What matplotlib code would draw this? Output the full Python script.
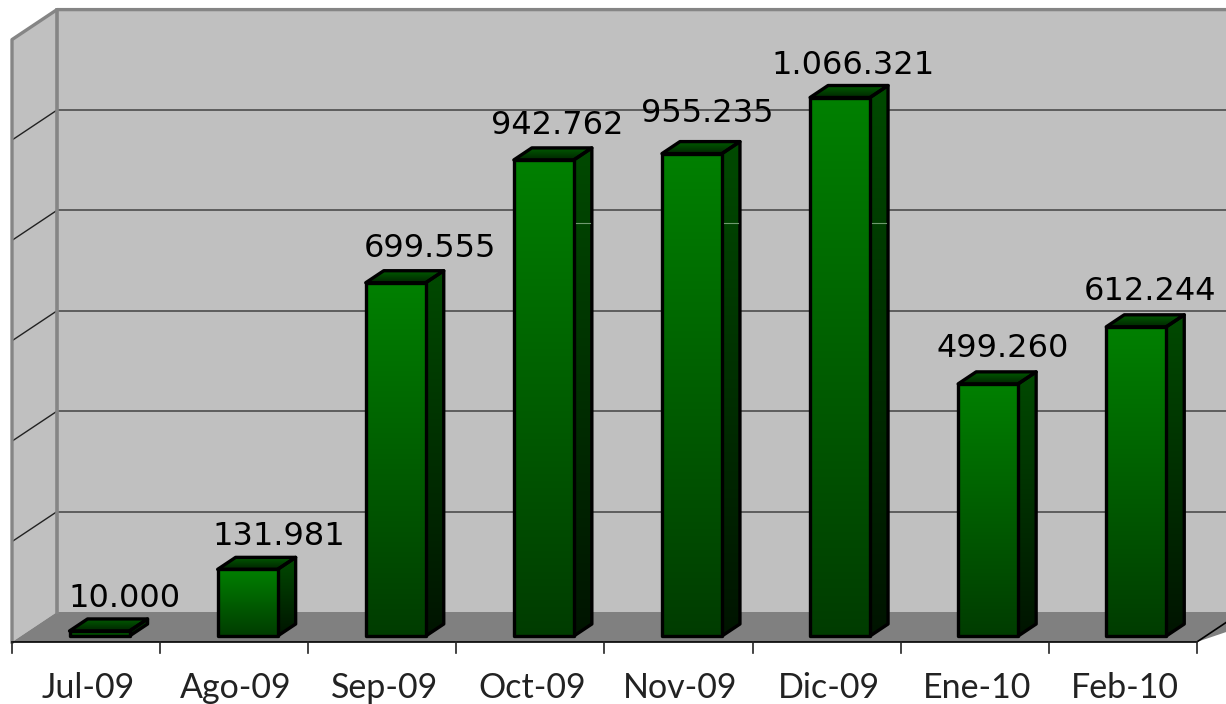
import numpy as np
import matplotlib
matplotlib.use("Agg")
import matplotlib.pyplot as plt
from matplotlib.patches import Polygon
from matplotlib.colors import LinearSegmentedColormap

plt.rcParams['font.family'] = ['Lato', 'DejaVu Sans']

months = ["Jul-09", "Ago-09", "Sep-09", "Oct-09", "Nov-09", "Dic-09", "Ene-10", "Feb-10"]
values = [10000, 131981, 699555, 942762, 955235, 1066321, 499260, 612244]
value_labels = ["10.000", "131.981", "699.555", "942.762", "955.235", "1.066.321", "499.260", "612.244"]
grid_levels = [0, 200000, 400000, 600000, 800000, 1000000, 1200000]

# the labels were dragged by hand in the original, so each has its own offset (px from bar top centre)
label_dx = [25, 31, 34, 13, 15, 13, 15, 14]
label_dy = [17, 17, 19, 19, 25, 17, 20, 20]

W, H = 1226, 704
# pixels per category / per value
px_cat = 148.1
px_val = 505e-6
wall_scale = 502 / 505

fig = plt.figure(figsize=(W / 100, H / 100), dpi=100)
ax = fig.add_axes([0, 0, 1, 1])
# x=0 is the left end of the front axis, y=0 is the bar baseline
ax.set_xlim(-12 / px_cat, (W - 12) / px_cat)
ax.set_ylim(-(H - 636) / px_val, 636 / px_val)
ax.axis("off")

dx = lambda p: p / px_cat
dy = lambda p: p / px_val

floor_front = dy(-6)
floor_back = dy(24)
wall_dx = dx(45)
n = len(months)
wall_top = floor_back + 1200000 * wall_scale
grey = "#858585"

# back wall, side wall, floor
ax.add_patch(Polygon([(wall_dx, floor_back), (W / px_cat, floor_back), (W / px_cat, wall_top), (wall_dx, wall_top)],
                     fc="#c0c0c0", ec="none", zorder=1))
ax.add_patch(Polygon([(0, floor_front), (wall_dx, floor_back), (wall_dx, wall_top), (0, wall_top - dy(30))],
                     fc="#c0c0c0", ec="none", zorder=1))
ax.add_patch(Polygon([(0, floor_front), (wall_dx, floor_back), (W / px_cat, floor_back), (W / px_cat, dy(8)), (n, floor_front)],
                     fc="#808080", ec="none", zorder=1))

for lev in grid_levels[1:-1]:
    y = lev * wall_scale
    ax.plot([wall_dx, W / px_cat], [floor_back + y, floor_back + y], color="#555555", lw=1.3, zorder=2)
    ax.plot([0, wall_dx], [floor_front + y, floor_back + y], color="#222222", lw=1.0, zorder=2)

ax.plot([wall_dx, wall_dx], [floor_back, wall_top], color=grey, lw=2.6, zorder=2)
ax.plot([0, 0, wall_dx, W / px_cat], [floor_front, wall_top - dy(30), wall_top, wall_top], color=grey, lw=2.4, zorder=2)

# front axis with ticks
ax.plot([0, n, n + dx(30)], [floor_front, floor_front, floor_front + dy(20)], color="black", lw=1.2, zorder=3)
for i in range(n + 1):
    ax.plot([i, i], [floor_front, floor_front - dy(11)], color="#222222", lw=1.2, zorder=3)

# 3d bars
front_cmap = LinearSegmentedColormap.from_list("front", ["#008000", "#003c00"])
side_cmap = LinearSegmentedColormap.from_list("side", ["#004a00", "#001400"])
top_cmap = LinearSegmentedColormap.from_list("top", ["#005a00", "#002400"])
ramp = np.linspace(0, 1, 256).reshape(-1, 1)

bar_w = dx(60)
depth_x, depth_y = dx(18), dy(12)
shift = dx(13.5)

def shaded(poly, cmap, extent, z):
    patch = Polygon(poly, fc="none", ec="none", zorder=z)
    ax.add_patch(patch)
    im = ax.imshow(ramp, cmap=cmap, extent=extent, aspect="auto", zorder=z, origin="upper")
    im.set_clip_path(patch)
    ax.add_patch(Polygon(poly, fc="none", ec="black", lw=2.4, joinstyle="round", zorder=z + 0.5))

for i, v in enumerate(values):
    x0 = i + 0.5 + shift - bar_w / 2
    x1 = x0 + bar_w
    z = 5 + i
    shaded([(x1, 0), (x1 + depth_x, depth_y), (x1 + depth_x, v + depth_y), (x1, v)], side_cmap,
           (x1, x1 + depth_x, 0, v + depth_y), z)
    shaded([(x0, v), (x1, v), (x1 + depth_x, v + depth_y), (x0 + depth_x, v + depth_y)], top_cmap,
           (x0, x1 + depth_x, v, v + depth_y), z)
    shaded([(x0, 0), (x1, 0), (x1, v), (x0, v)], front_cmap, (x0, x1, 0, v), z + 0.6)
    ax.text(x0 + bar_w / 2 + dx(label_dx[i]), v + dy(label_dy[i]), value_labels[i], ha="center", va="bottom",
            fontsize=23, family=["DejaVu Sans"], color="black", zorder=20)
    ax.text(i + 0.5 + dx(2), dy(-62), months[i], ha="center", va="baseline", fontsize=24.5, color="#222222",
            zorder=20)

# faint nick on the side faces of the three tallest bars
for i in [3, 4, 5]:
    x1 = i + 0.5 + shift + bar_w / 2
    ax.plot([x1 + dx(2), x1 + depth_x - dx(2)], [dy(413), dy(413)], color="#6f9a6f", lw=0.8, zorder=30)

ax.set_xlim(-12 / px_cat, (W - 12) / px_cat)
ax.set_ylim(-(H - 636) / px_val, 636 / px_val)
fig.savefig("out.png", dpi=100, facecolor="white")
